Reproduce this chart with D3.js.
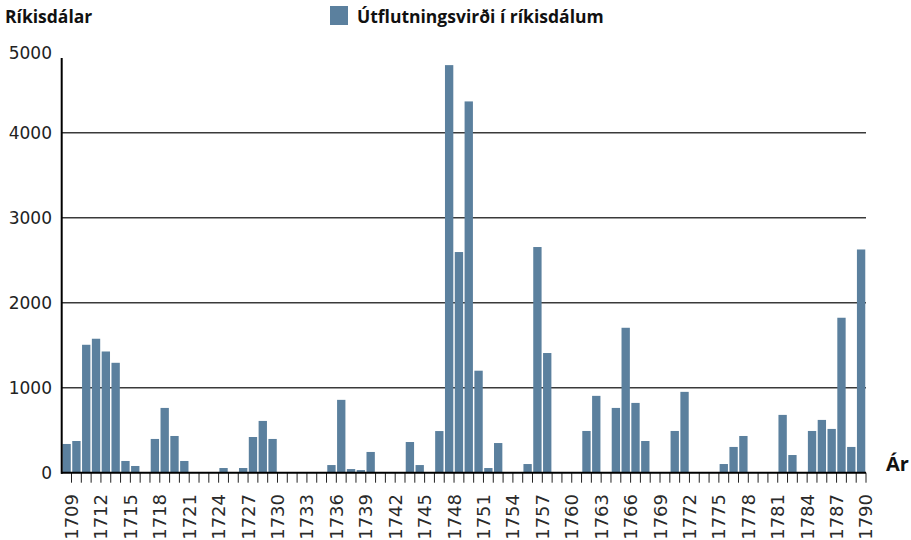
<!DOCTYPE html>
<html>
<head>
<meta charset="utf-8">
<title>Útflutningsvirði</title>
<script src="https://d3js.org/d3.v7.min.js"></script>
<style>
	body { margin: 0; background: #fff; }
	.title { font-family: 'Open Sans', sans-serif; font-weight: 700; fill: #111; }
	.ylab { font-family: 'DejaVu Sans', sans-serif; font-size: 17px; fill: #222; }
	.xlab { font-family: 'DejaVu Sans', sans-serif; font-size: 18px; fill: #2a2a2a; }
</style>
</head>
<body>
<div id="chart"></div>
<script>
var width = 911, height = 540;

// years on the x axis
var years = [1709,1710,1711,1712,1713,1714,1715,1716,1717,1718,1719,1720,1721,1722,1723,1724,
	1725,1726,1727,1728,1729,1730,1731,1732,1733,1734,1735,1736,1737,1738,1739,1740,
	1741,1742,1743,1744,1745,1746,1747,1748,1749,1750,1751,1752,1753,1754,1755,1756,
	1757,1758,1759,1760,1761,1762,1763,1764,1765,1766,1767,1768,1769,1770,1771,1772,
	1773,1774,1775,1776,1777,1778,1779,1780,1781,1782,1783,1784,1785,1786,1787,1788,
	1789,1790];

// export value in rikisdalir
var values = [338,373,1505,1576,1426,1293,138,79,0,397,762,432,138,0,0,0,
	55,0,55,420,609,397,0,0,0,0,0,90,857,43,31,244,
	0,0,0,361,90,0,490,4795,2596,4368,1200,55,349,0,0,102,
	2655,1408,0,0,0,491,904,0,762,1705,821,373,0,0,491,951,
	0,0,0,102,303,432,0,0,0,680,208,0,491,621,515,1823,
	303,2626];

var tickYears = [1709,1712,1715,1718,1721,1724,1727,1730,1733,1736,1739,1742,1745,1748,
	1751,1754,1757,1760,1763,1766,1769,1772,1775,1778,1781,1784,1787,1790];
var yTicks = [0,1000,2000,3000,4000,5000];
var gridTicks = [1000,2000,3000,4000];

var barColor = "#5b809e";

var svg = d3.select("#chart").append("svg")
	.attr("width", width)
	.attr("height", height);

var x = d3.scaleBand()
	.domain(years)
	.range([61.7, 866])
	.paddingInner(0.15)
	.paddingOuter(0.075);

var y = d3.scaleLinear()
	.domain([0, 5000])
	.range([472.7, 47.7]);

var step = x.step();
var edge = function(yr) { return x(yr) + x.bandwidth() + step * 0.075; };

// grid lines
svg.selectAll("line.grid")
	.data(gridTicks).enter()
	.append("line")
	.attr("class", "grid")
	.attr("x1", 61).attr("x2", 866)
	.attr("y1", function(d) { return y(d); })
	.attr("y2", function(d) { return y(d); })
	.attr("stroke", "#3a3a3a")
	.attr("stroke-width", 1.5);

// bars
svg.selectAll("rect.bar")
	.data(years).enter()
	.append("rect")
	.attr("class", "bar")
	.attr("x", function(d) { return x(d); })
	.attr("width", x.bandwidth())
	.attr("y", function(d, i) { return y(values[i]); })
	.attr("height", function(d, i) { return y(0) - y(values[i]); })
	.attr("fill", barColor);

// x axis ticks between bars
svg.selectAll("line.xtick")
	.data(years).enter()
	.append("line")
	.attr("class", "xtick")
	.attr("x1", function(d) { return edge(d); })
	.attr("x2", function(d) { return edge(d); })
	.attr("y1", y(0)).attr("y2", y(0) + 10)
	.attr("stroke", "#222")
	.attr("stroke-width", 1);

// axis lines
svg.append("line")
	.attr("x1", 61).attr("x2", 866)
	.attr("y1", y(0)).attr("y2", y(0))
	.attr("stroke", "#000").attr("stroke-width", 2);
svg.append("line")
	.attr("x1", 61.7).attr("x2", 61.7)
	.attr("y1", 58).attr("y2", y(0) + 1)
	.attr("stroke", "#000").attr("stroke-width", 2);

// y labels
svg.selectAll("text.ylab")
	.data(yTicks).enter()
	.append("text")
	.attr("class", "ylab")
	.attr("x", 52)
	.attr("y", function(d) { return Math.max(y(d), 53); })
	.attr("dy", "0.36em")
	.attr("text-anchor", "end")
	.text(function(d) { return d; });

// x labels, rotated
svg.selectAll("text.xlab")
	.data(tickYears).enter()
	.append("text")
	.attr("class", "xlab")
	.attr("text-anchor", "end")
	.attr("dy", "0.36em")
	.attr("transform", function(d) { return "translate(" + edge(d) + ",494) rotate(-90)"; })
	.text(function(d) { return d; });

// titles and legend
svg.append("text")
	.attr("class", "title")
	.attr("x", 5).attr("y", 23)
	.style("font-size", "17.5px")
	.text("Ríkisdálar");

svg.append("rect")
	.attr("x", 330).attr("y", 6)
	.attr("width", 18).attr("height", 19)
	.attr("fill", barColor);

svg.append("text")
	.attr("class", "title")
	.attr("x", 357).attr("y", 23)
	.style("font-size", "17.5px")
	.text("Útflutningsvirði í ríkisdálum");

svg.append("text")
	.attr("class", "title")
	.attr("x", 886).attr("y", 471)
	.style("font-size", "20px")
	.text("Ár");
</script>
</body>
</html>
